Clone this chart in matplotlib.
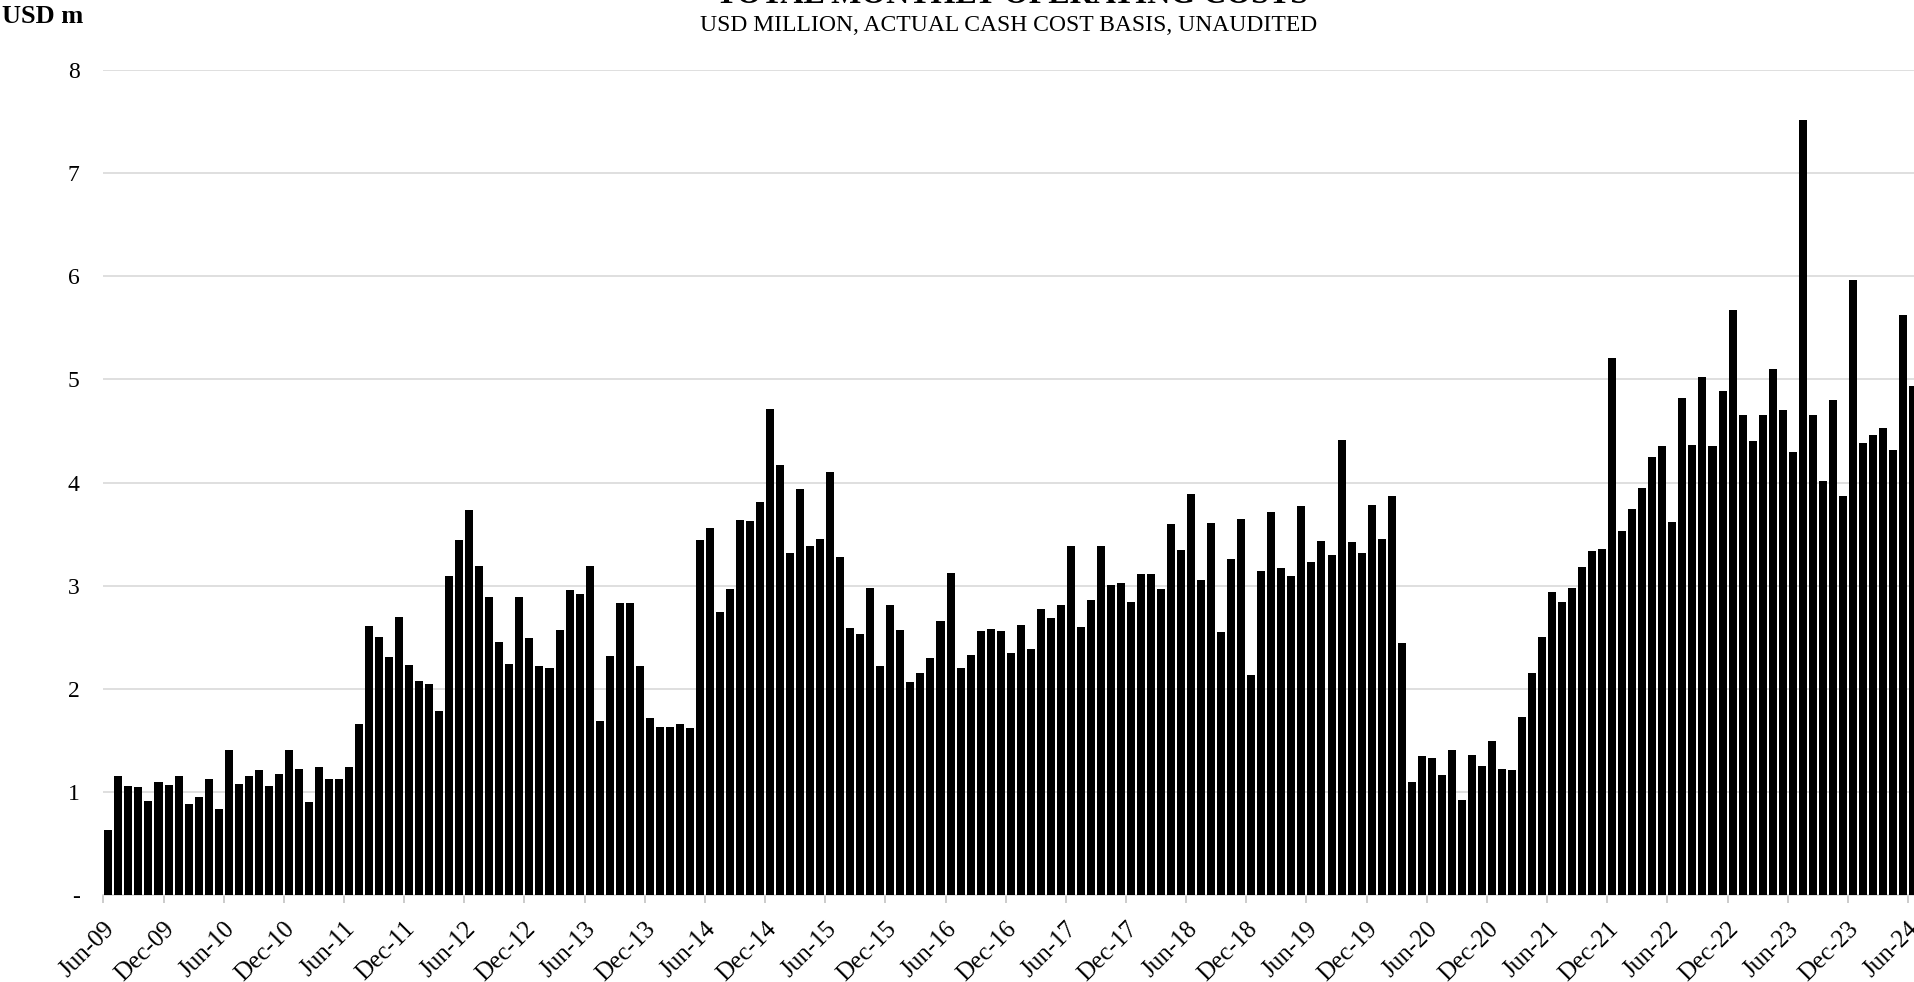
import matplotlib
matplotlib.use("Agg")
import matplotlib.pyplot as plt
import pandas as pd

# monthly operating costs, USD m, Jun-09 .. Jun-24
costs = [
    0.63, 1.15, 1.06, 1.05, 0.91, 1.10, 1.07, 1.15, 0.88, 0.95, 1.12, 0.83,
    1.41, 1.08, 1.15, 1.21, 1.06, 1.17, 1.41, 1.22, 0.90, 1.24, 1.12, 1.12,
    1.24, 1.66, 2.61, 2.50, 2.31, 2.70, 2.23, 2.08, 2.05, 1.78, 3.09, 3.44,
    3.73, 3.19, 2.89, 2.45, 2.24, 2.89, 2.49, 2.22, 2.20, 2.57, 2.96, 2.92,
    3.19, 1.69, 2.32, 2.83, 2.83, 2.22, 1.72, 1.63, 1.63, 1.66, 1.62, 3.44,
    3.56, 2.74, 2.97, 3.64, 3.63, 3.81, 4.71, 4.17, 3.32, 3.94, 3.38, 3.45,
    4.10, 3.28, 2.59, 2.53, 2.98, 2.22, 2.81, 2.57, 2.07, 2.15, 2.30, 2.66,
    3.12, 2.20, 2.33, 2.56, 2.58, 2.56, 2.35, 2.62, 2.39, 2.77, 2.69, 2.81,
    3.38, 2.60, 2.86, 3.38, 3.01, 3.03, 2.84, 3.11, 3.11, 2.97, 3.60, 3.35,
    3.89, 3.05, 3.61, 2.55, 3.26, 3.65, 2.13, 3.14, 3.71, 3.17, 3.09, 3.77,
    3.23, 3.43, 3.30, 4.41, 3.42, 3.32, 3.78, 3.45, 3.87, 2.44, 1.10, 1.35,
    1.33, 1.16, 1.41, 0.92, 1.36, 1.25, 1.49, 1.22, 1.21, 1.73, 2.15, 2.50,
    2.94, 2.84, 2.98, 3.18, 3.34, 3.36, 5.21, 3.53, 3.74, 3.95, 4.25, 4.35,
    3.62, 4.82, 4.36, 5.02, 4.35, 4.89, 5.67, 4.65, 4.40, 4.65, 5.10, 4.70,
    4.30, 7.52, 4.65, 4.01, 4.80, 3.87, 5.96, 4.38, 4.46, 4.53, 4.32, 5.62,
    4.94,
]
months = pd.date_range("2009-06-01", periods=len(costs), freq="MS").strftime("%b-%y").tolist()
y_ticks = [0, 1, 2, 3, 4, 5, 6, 7, 8]
y_labels = ["-", "1", "2", "3", "4", "5", "6", "7", "8"]

plt.rcParams["font.family"] = ["Liberation Serif", "DejaVu Serif"]

fig = plt.figure(figsize=(19.14, 9.82), dpi=100)
# the original is cropped on the right, so the axes run slightly past the figure edge
ax = fig.add_axes([0.0540, 0.0886, 0.9481, 0.8401])

x = range(len(costs))
ax.bar(x, costs, width=0.8, color="black", zorder=3)

ax.set_xlim(-0.5, len(costs) - 0.5)
ax.set_ylim(0, 8)

# tick marks between categories every 6 months, label at each
tick_pos = [i - 0.5 for i in range(0, len(costs), 6)]
tick_lab = [months[i] for i in range(0, len(costs), 6)]
ax.set_xticks(tick_pos)
ax.set_xticklabels(tick_lab, rotation=45, ha="right", va="top",
                   rotation_mode="anchor", fontsize=18)
ax.tick_params(axis="x", length=6, width=1.1, color="#bfbfbf", pad=10.5)

ax.set_yticks(y_ticks)
ax.set_yticklabels(y_labels, fontsize=17)
ax.tick_params(axis="y", length=0, pad=17)

ax.grid(axis="y", color="#d9d9d9", linewidth=1.2, zorder=0)
for s in ["top", "right", "left"]:
    ax.spines[s].set_visible(False)
ax.spines["bottom"].set_color("#d9d9d9")
ax.spines["bottom"].set_linewidth(1.2)

fig.text(0.529, 0.9965, "TOTAL MONTHLY OPERATING COSTS", ha="center", va="baseline",
         fontsize=23, fontweight="bold")
fig.text(0.527, 0.9684, "USD MILLION, ACTUAL CASH COST BASIS, UNAUDITED", ha="center",
         va="baseline", fontsize=17)
fig.text(0.0012, 0.9766, "USD m", ha="left", va="baseline", fontsize=19, fontweight="bold")

fig.savefig("out.png", dpi=100)
